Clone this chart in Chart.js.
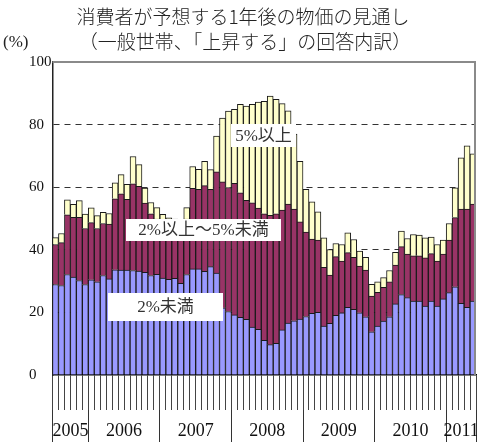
<!DOCTYPE html>
<html lang="ja">
<head>
<meta charset="utf-8">
<title>消費者が予想する1年後の物価の見通し</title>
<script src="https://cdn.jsdelivr.net/npm/chart.js@4.4.1/dist/chart.umd.min.js"></script>
<style>
  html, body { margin: 0; padding: 0; background: #fff; }
  #wrap { width: 477px; height: 442px; }
</style>
</head>
<body>
<div id="wrap"><canvas id="chart" width="477" height="442"></canvas></div>
<script>
// ── 月（2005年7月～2011年5月）────────────────────────────────
const months = [
  "2005/7", "2005/8", "2005/9", "2005/10", "2005/11", "2005/12",
  "2006/1", "2006/2", "2006/3", "2006/4", "2006/5", "2006/6", "2006/7", "2006/8", "2006/9", "2006/10", "2006/11", "2006/12",
  "2007/1", "2007/2", "2007/3", "2007/4", "2007/5", "2007/6", "2007/7", "2007/8", "2007/9", "2007/10", "2007/11", "2007/12",
  "2008/1", "2008/2", "2008/3", "2008/4", "2008/5", "2008/6", "2008/7", "2008/8", "2008/9", "2008/10", "2008/11", "2008/12",
  "2009/1", "2009/2", "2009/3", "2009/4", "2009/5", "2009/6", "2009/7", "2009/8", "2009/9", "2009/10", "2009/11", "2009/12",
  "2010/1", "2010/2", "2010/3", "2010/4", "2010/5", "2010/6", "2010/7", "2010/8", "2010/9", "2010/10", "2010/11", "2010/12",
  "2011/1", "2011/2", "2011/3", "2011/4", "2011/5",
];
const years = ["2005", "2006", "2007", "2008", "2009", "2010", "2011"];
const monthsPerYear = [6, 12, 12, 12, 12, 12, 5];
const yTicks = [0, 20, 40, 60, 80, 100];

// ── 回答内訳（%）────────────────────────────────────────────
const under2 = [
  28.9, 28.6, 32.1, 31.3, 30.2, 28.9,
  30.4, 29.8, 31.8, 30.7, 33.6, 33.5, 33.5, 33.4, 33.2, 32.8, 31.8, 32.2,
  31.0, 30.6, 30.9, 29.3, 32.1, 33.9, 33.9, 33.1, 34.6, 32.6, 21.5, 20.3,
  19.2, 18.4, 17.8, 15.3, 14.6, 11.1, 9.7, 10.1, 14.4, 16.6, 17.3, 17.9,
  18.7, 19.7, 20.0, 15.6, 16.5, 19.1, 19.9, 21.6, 21.0, 19.9, 18.6, 13.8,
  15.6, 17.2, 18.6, 22.7, 25.7, 24.7, 23.6, 23.6, 22.0, 23.6, 22.0, 24.3,
  26.3, 28.2, 22.9, 21.6, 23.6,
];
const from2to5 = [
  12.8, 13.7, 19.1, 19.1, 20.2, 17.9,
  18.3, 17.0, 16.6, 17.5, 22.7, 24.4, 22.6, 27.7, 27.1, 22.1, 19.7, 17.6,
  18.5, 15.9, 15.1, 16.2, 17.7, 25.7, 25.4, 27.4, 24.7, 32.3, 40.2, 39.6,
  42.0, 39.8, 38.0, 39.7, 38.7, 40.4, 41.3, 41.4, 38.3, 38.0, 35.7, 31.0,
  27.0, 23.7, 23.1, 18.8, 15.4, 18.7, 16.5, 17.5, 16.6, 14.9, 14.9, 11.4,
  10.8, 10.8, 11.2, 12.4, 15.3, 13.9, 14.5, 14.5, 15.4, 15.2, 14.4, 14.3,
  16.8, 22.1, 30.1, 31.4, 31.0,
];
const over5 = [
  2.2, 2.9, 4.8, 4.1, 5.3, 4.6,
  4.7, 4.1, 3.6, 3.4, 5.1, 6.1, 4.8, 8.7, 6.9, 4.8, 3.6, 3.7,
  1.8, 3.7, 3.8, 4.0, 3.7, 7.0, 6.4, 7.8, 6.3, 11.4, 20.4, 24.4,
  23.7, 28.3, 30.1, 31.5, 33.9, 35.9, 38.1, 36.6, 34.0, 29.8, 24.0, 19.4,
  13.6, 11.9, 9.0, 9.4, 8.2, 4.2, 5.3, 6.3, 5.7, 4.8, 4.1, 3.8,
  3.4, 3.1, 3.6, 4.1, 5.0, 5.0, 6.8, 6.6, 6.4, 5.3, 5.3, 4.5,
  5.3, 9.5, 16.4, 20.2, 16.1,
];

const SERIF = '"Liberation Serif", "Noto Sans CJK JP", serif';
const JP = '"Noto Sans CJK JP", "Liberation Serif", sans-serif';

// 年の区切り（月数の累積）と各年の中央
const yearEdges = [0];
monthsPerYear.forEach(n => yearEdges.push(yearEdges[yearEdges.length - 1] + n));
const yearMids = years.map((_, i) => (yearEdges[i] + yearEdges[i + 1]) / 2);

// グラフ内の系列名ボックス
const seriesTags = [
  { text: "5%以上",        x: 231, y: 124, w: 65,  h: 23 },
  { text: "2%以上～5%未満", x: 126, y: 219, w: 155, h: 22 },
  { text: "2%未満",        x: 108, y: 293, w: 115, h: 28 },
];

const decor = {
  id: "decor",
  beforeDraw(chart) {
    const { ctx, width, height } = chart;
    ctx.save();
    ctx.fillStyle = "#fff";
    ctx.fillRect(0, 0, width, height);
    ctx.restore();
  },
  afterDatasetsDraw(chart) {
    const { ctx, chartArea: a } = chart;
    ctx.save();
    // 上・右の枠
    ctx.strokeStyle = "#8a8a8a";
    ctx.lineWidth = 2;
    ctx.beginPath();
    ctx.moveTo(a.left, a.top);
    ctx.lineTo(a.right - 1, a.top);
    ctx.lineTo(a.right - 1, a.bottom);
    ctx.stroke();

    ctx.font = `17px ${SERIF}`;
    ctx.textAlign = "center";
    ctx.textBaseline = "middle";
    for (const t of seriesTags) {
      ctx.fillStyle = "#fff";
      ctx.fillRect(t.x, t.y, t.w, t.h);
      ctx.fillStyle = "#333";
      ctx.fillText(t.text, t.x + t.w / 2, t.y + t.h / 2 + 1);
    }
    ctx.restore();
  },
  afterDraw(chart) {
    const { ctx } = chart;
    ctx.save();
    ctx.fillStyle = "#222";
    ctx.textBaseline = "middle";
    ctx.textAlign = "center";
    ctx.font = `300 19px ${JP}`;
    ctx.fillText("消費者が予想する1年後の物価の見通し", 243, 17);
    ctx.fillText("（一般世帯、「上昇する」の回答内訳）", 245, 42);
    ctx.textAlign = "left";
    ctx.font = `17px ${SERIF}`;
    ctx.fillText("(%)", 3, 43);
    ctx.restore();
  },
};

const barStyle = {
  borderColor: "#1a1a1a",
  borderWidth: 1,
  barPercentage: 1,
  categoryPercentage: 1,
};

new Chart(document.getElementById("chart"), {
  type: "bar",
  data: {
    labels: months,
    datasets: [
      { label: "2%未満", data: under2, backgroundColor: "#9999ff", ...barStyle },
      { label: "2%以上～5%未満", data: from2to5, backgroundColor: "#993366", ...barStyle },
      { label: "5%以上", data: over5, backgroundColor: "#ffffcc", ...barStyle },
    ],
  },
  options: {
    responsive: false,
    devicePixelRatio: 1,
    animation: false,
    layout: { padding: { left: 29, right: 1, top: 62, bottom: 0 } },
    plugins: {
      legend: { display: false },
      tooltip: { enabled: false },
      title: { display: false },
    },
    scales: {
      x: {
        stacked: true,
        offset: true,
        grid: { drawOnChartArea: false, offset: true, tickLength: 35, tickColor: "#444", tickWidth: 1 },
        ticks: { display: false, autoSkip: false },
        border: { display: true, color: "#000", width: 1.5 },
        afterFit(scale) { scale.height = 35; },
      },
      yr: {
        type: "linear",
        position: "bottom",
        weight: 1,
        offset: false,
        min: 0,
        max: months.length,
        bounds: "data",
        afterBuildTicks(scale) {
          scale.ticks = [...yearEdges, ...yearMids].sort((p, q) => p - q).map(v => ({ value: v }));
        },
        grid: {
          offset: false,
          drawOnChartArea: false,
          tickLength: 32,
          tickWidth: 1,
          tickColor: c => (c.tick && yearEdges.includes(c.tick.value)) ? "#333" : "rgba(0,0,0,0)",
        },
        border: { display: false },
        ticks: {
          autoSkip: false,
          maxRotation: 0,
          padding: -22,
          color: "#111",
          font: { family: SERIF, size: 18 },
          callback: v => {
            const i = yearMids.indexOf(v);
            return i >= 0 ? years[i] : "";
          },
        },
        afterFit(scale) { scale.height = 32; },
      },
      y: {
        stacked: true,
        min: 0,
        max: 100,
        afterBuildTicks(scale) { scale.ticks = yTicks.map(v => ({ value: v })); },
        ticks: { color: "#111", font: { family: SERIF, size: 15 }, crossAlign: "far", padding: 3 },
        grid: {
          drawTicks: false,
          lineWidth: 1,
          color: c => (c.tick && (c.tick.value === 0 || c.tick.value === 100)) ? "rgba(0,0,0,0)" : "#333",
        },
        border: { display: true, color: "#222", width: 1.5, dash: [6, 5] },
        afterFit(scale) { scale.width = 23.5; },
      },
    },
  },
  plugins: [decor],
});
</script>
</body>
</html>
